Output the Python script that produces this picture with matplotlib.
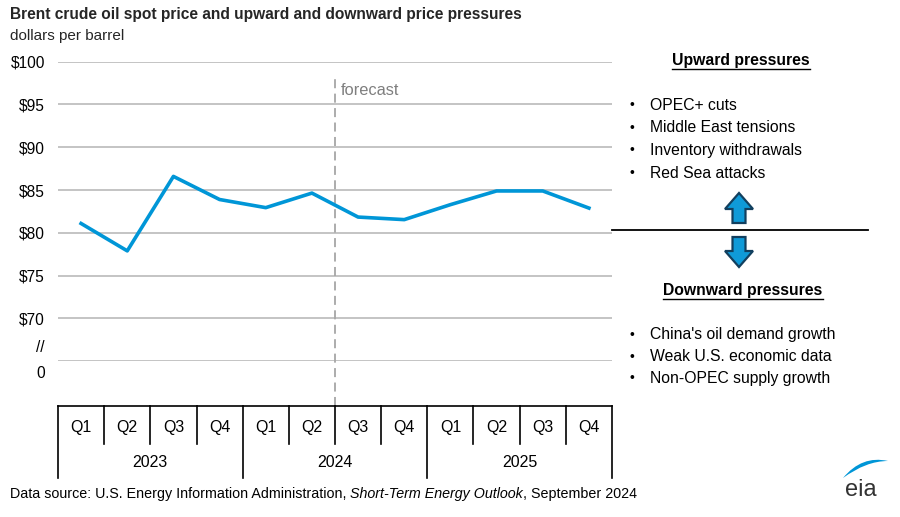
import numpy as np
import matplotlib.pyplot as plt
import matplotlib.patches as mpatches
from matplotlib.path import Path
from matplotlib import font_manager

# pick a narrow Arial-like face if there is one
names = {f.name for f in font_manager.fontManager.ttflist}
fam = 'Liberation Sans Narrow' if 'Liberation Sans Narrow' in names else 'Liberation Sans'
plt.rcParams['font.family'] = [fam, 'DejaVu Sans']

# data
quarters = ['Q1', 'Q2', 'Q3', 'Q4'] * 3
years = ['2023', '2024', '2025']
price = [81.1, 77.9, 86.6, 83.9, 82.95, 84.65, 81.85, 81.55, 83.3, 84.9, 84.9, 82.9]
yticks = [65, 70, 75, 80, 85, 90, 95, 100]
ytick_labels = ['', '$70', '$75', '$80', '$85', '$90', '$95', '$100']
forecast_at = 5.5
up_items = ['OPEC+ cuts', 'Middle East tensions', 'Inventory withdrawals', 'Red Sea attacks']
down_items = ["China's oil demand growth", 'Weak U.S. economic data', 'Non-OPEC supply growth']

blue = '#0096d7'
W, H = 900, 517
fig = plt.figure(figsize=(9, 5.17), dpi=100)

ax = fig.add_axes([58 / W, (H - 361.3) / H, 554 / W, 299.6 / H])
x = np.arange(len(price))
ax.plot(x, price, color=blue, lw=2.6, zorder=3)
ax.set_xlim(-0.5, 11.5)
ax.set_ylim(65, 100)
ax.set_yticks(yticks)
ax.set_yticklabels(ytick_labels)
ax.set_xticks([])
ax.yaxis.grid(True, color='#bfbfbf', lw=1.3)
ax.set_axisbelow(True)
for s in ax.spines.values():
    s.set_visible(False)
ax.tick_params(axis='y', length=0, pad=9.4, labelsize=11.2, labelcolor='#000000')
ax.annotate('//', xy=(0, 66.6), xycoords=('axes fraction', 'data'), xytext=(-9.4, 0),
            textcoords='offset points', ha='right', va='center', fontsize=11.2)
ax.annotate('0', xy=(0, 65), xycoords=('axes fraction', 'data'), xytext=(-9.4, -8.5),
            textcoords='offset points', ha='right', va='center', fontsize=11.2)

# forecast divider
bt = ax.get_xaxis_transform()
ax.plot([forecast_at, forecast_at], [-0.148, 0.946], transform=bt, color='#a6a6a6',
        lw=1.3, ls=(0, (5, 3)), clip_on=False)
ax.text(forecast_at + 0.12, 0.905, 'forecast', transform=bt, color='#7f7f7f',
        fontsize=11.8, va='center', ha='left')

# quarter / year box under the axis
box_top, q_bot, y_bot = -0.148, -0.276, -0.389
ax.plot([-0.5, 11.5], [box_top, box_top], transform=bt, color='black', lw=1.2, clip_on=False)
for i in range(13):
    xb = i - 0.5
    bottom = y_bot if i % 4 == 0 else q_bot
    ax.plot([xb, xb], [box_top, bottom], transform=bt, color='black', lw=1.2, clip_on=False)
for i, q in enumerate(quarters):
    ax.text(i, -0.2196, q, transform=bt, ha='center', va='center', fontsize=11.5)
for j, yr in enumerate(years):
    ax.text(j * 4 + 1.5, -0.339, yr, transform=bt, ha='center', va='center', fontsize=11.5)

# overlay in pixel coordinates for the text panel
ov = fig.add_axes([0, 0, 1, 1])
ov.set_xlim(0, W)
ov.set_ylim(H, 0)
ov.axis('off')
ov.set_facecolor('none')

ov.text(10, 14, 'Brent crude oil spot price and upward and downward price pressures',
        fontsize=11.2, fontweight='bold', va='center', ha='left', color='#262626')
ov.text(10, 36, 'dollars per barrel', fontsize=11, va='center', ha='left', color='#262626')

fig.canvas.draw()
r = fig.canvas.get_renderer()
inv = ov.transData.inverted()


def header(xc, yc, s):
    t = ov.text(xc, yc, s, fontsize=11.3, fontweight='bold', ha='center', va='center')
    bb = t.get_window_extent(r)
    (x0, _), (x1, _) = inv.transform([[bb.x0, bb.y0], [bb.x1, bb.y1]])
    ov.plot([x0, x1], [yc + 8, yc + 8], color='black', lw=1.0)


header(741, 61, 'Upward pressures')
for k, s in enumerate(up_items):
    yy = 105 + k * 22.7
    ov.text(632, yy, '\u2022', fontsize=10, ha='center', va='center')
    ov.text(650, yy, s, fontsize=11.3, ha='left', va='center')

header(743, 291, 'Downward pressures')
for k, s in enumerate(down_items):
    yy = 335 + k * 21.7
    ov.text(632, yy, '\u2022', fontsize=10, ha='center', va='center')
    ov.text(650, yy, s, fontsize=11.3, ha='left', va='center')

ov.plot([612, 868], [230, 230], color='black', lw=1.3)


def arrow(xc, ytip, direction):
    d = -1 if direction == 'up' else 1
    hw, sw, hh, L = 14, 6.5, 16, 30
    ybase = ytip - d * L
    yneck = ytip - d * hh
    pts = [(xc, ytip), (xc + hw, yneck), (xc + sw, yneck), (xc + sw, ybase),
           (xc - sw, ybase), (xc - sw, yneck), (xc - hw, yneck)]
    ov.add_patch(mpatches.Polygon(pts, closed=True, facecolor='#0f9ad8',
                                  edgecolor='#123f5e', lw=1.6, joinstyle='miter'))


arrow(739, 193, 'up')
arrow(739, 267, 'down')

# source line, italic title in the middle
parts = [('Data source: U.S. Energy Information Administration, ', 'normal'),
         ('Short-Term Energy Outlook', 'italic'), (', September 2024', 'normal')]
xx = 10
for s, st in parts:
    t = ov.text(xx, 494, s, fontsize=10.3, style=st, ha='left', va='center')
    bb = t.get_window_extent(r)
    xx = inv.transform([[bb.x1, bb.y0]])[0][0]

# eia logo
verts = [(843, 478), (862, 455), (888, 461), (866, 461), (843, 478)]
codes = [Path.MOVETO, Path.CURVE3, Path.CURVE3, Path.CURVE3, Path.CURVE3]
ov.add_patch(mpatches.PathPatch(Path(verts, codes), facecolor=blue, edgecolor='none'))
ov.text(861, 490, 'eia', fontsize=17, ha='center', va='center', color='#333333')

fig.savefig('out.png', dpi=100)
